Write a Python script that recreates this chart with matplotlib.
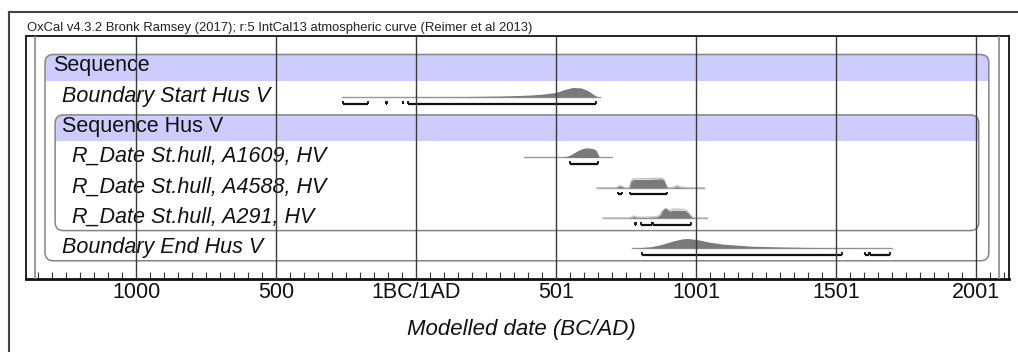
import matplotlib
matplotlib.use('Agg')
import matplotlib.pyplot as plt
from matplotlib.patches import FancyBboxPatch, Rectangle
from matplotlib.lines import Line2D

plt.rcParams['font.family'] = ['Liberation Sans', 'DejaVu Sans']

# model rows, top to bottom
labels = ['Sequence', 'Boundary Start Hus V', 'Sequence Hus V',
          'R_Date St.hull, A1609, HV', 'R_Date St.hull, A4588, HV',
          'R_Date St.hull, A291, HV', 'Boundary End Hus V']
indent = [0, 1, 1, 2, 2, 2, 1]
italic = [False, True, False, True, True, True, True]

# sequence groups: (header row, last row)
groups = [(0, 6), (2, 5)]

tick_years = [-1000, -500, 0, 500, 1000, 1500, 2000]
tick_labels = ['1000', '500', '1BC/1AD', '501', '1001', '1501', '2001']

# posterior distributions (calendar year, relative probability)
start_x = [-265, 0, 100, 200, 300, 400, 450, 500, 530, 560, 590, 615, 635, 650, 657]
start_p = [0, 0.02, 0.04, 0.07, 0.11, 0.2, 0.3, 0.48, 0.78, 1.0, 0.95, 0.65, 0.25, 0, 0]

a1609_x = [386, 520, 535, 550, 565, 580, 595, 605, 615, 625, 635, 643, 650, 655, 700]
a1609_p = [0, 0, 0.08, 0.25, 0.5, 0.75, 0.92, 1.0, 0.98, 0.95, 0.9, 0.75, 0.35, 0, 0]

a4588_x = [645, 715, 722, 729, 736, 745, 762, 767, 775, 800, 830, 860, 875, 885,
           892, 898, 915, 925, 932, 940, 960, 1028]
a4588_p = [0, 0, 0.1, 0.2, 0.1, 0, 0, 0.6, 0.85, 0.85, 0.87, 0.9, 0.92, 0.8,
           0.3, 0, 0, 0.08, 0.15, 0.05, 0, 0]
a4588_prior = [0, 0, 0.1, 0.2, 0.1, 0, 0.02, 0.6, 0.9, 0.92, 0.95, 0.97, 0.98, 0.85,
               0.35, 0.03, 0.02, 0.12, 0.2, 0.1, 0.02, 0]

a291_x = [668, 760, 770, 778, 786, 800, 830, 860, 872, 880, 887, 893, 900, 908,
          915, 930, 950, 962, 972, 982, 990, 1040]
a291_p = [0, 0, 0.05, 0.15, 0.06, 0.04, 0.05, 0.1, 0.3, 0.75, 0.95, 1.0, 0.8, 0.7,
          0.8, 0.8, 0.78, 0.75, 0.5, 0.15, 0, 0]
a291_prior = [0, 0.01, 0.08, 0.2, 0.1, 0.07, 0.08, 0.12, 0.32, 0.7, 0.9, 0.95, 0.82, 0.78,
              0.9, 0.9, 0.88, 0.82, 0.6, 0.2, 0.03, 0]

end_x = [771, 800, 840, 880, 920, 950, 968, 1000, 1050, 1100, 1200, 1300, 1400, 1500, 1600, 1700]
end_p = [0, 0.05, 0.15, 0.4, 0.75, 0.95, 1.0, 0.9, 0.6, 0.4, 0.2, 0.12, 0.07, 0.04, 0.02, 0]

# 95.4% highest posterior density ranges
start_ranges = [(-261, -172), (-108, -105), (-48, -45), (-28, 643)]
a1609_ranges = [(549, 651)]
a4588_ranges = [(720, 737), (763, 896)]
a291_ranges = [(781, 784), (802, 844), (846, 983)]
end_ranges = [(807, 1521), (1605, 1617), (1621, 1693)]

# row index -> (years, posterior, prior, ranges)
dists = {
    1: (start_x, start_p, None, start_ranges),
    3: (a1609_x, a1609_p, None, a1609_ranges),
    4: (a4588_x, a4588_p, a4588_prior, a4588_ranges),
    5: (a291_x, a291_p, a291_prior, a291_ranges),
    6: (end_x, end_p, None, end_ranges),
}

W, H = 1018, 352
fig = plt.figure(figsize=(W / 100, H / 100), dpi=100)
ax = fig.add_axes([26 / W, 1 - 279 / H, (1009 - 26) / W, (279 - 36) / H])
ax.set_xlim(-1393, 2118)
ax.set_ylim(7.053, -0.993)

frame_lo, frame_hi = -1361, 2082
inset = 36
band_col = '#ccccff'
box_col = '#858585'

# sequence boxes with shaded header band
for depth, (first, last) in enumerate(groups, start=1):
    x0 = frame_lo + inset * depth
    x1 = frame_hi - inset * depth
    y0 = first - 0.38
    y1 = last + 0.45
    box = FancyBboxPatch((x0, y0), x1 - x0, y1 - y0,
                         boxstyle='round,pad=0,rounding_size=30',
                         mutation_aspect=0.0092,
                         facecolor='none', edgecolor=box_col, lw=1.1, zorder=3)
    ax.add_patch(box)
    band = Rectangle((x0, y0), x1 - x0, first + 0.5 - y0,
                     facecolor=band_col, edgecolor='none', zorder=1)
    ax.add_patch(band)
    band.set_clip_path(box)

# row labels
for i, (lab, ind, it) in enumerate(zip(labels, indent, italic)):
    ax.text(-1297 + 34 * ind, i, lab, fontsize=15.5, va='center', ha='left',
            style='italic' if it else 'normal', color='#111111', zorder=4)

# distributions and ranges
scale = 0.32
for row, (xs, ps, prior, ranges) in dists.items():
    base = row + 0.03
    ax.plot([xs[0], xs[-1]], [base, base], color='#9a9a9a', lw=1, zorder=2)
    if prior is not None:
        ax.plot(xs, [base - scale * v for v in prior], color='#c4c4c4', lw=1, zorder=2)
    ax.fill_between(xs, base, [base - scale * v for v in ps],
                    color='#7a7a7a', lw=0, zorder=2.5)
    ry = row + 0.25
    for a, b in ranges:
        ax.plot([a, b], [ry, ry], color='#111111', lw=1.6, solid_capstyle='butt', zorder=3)
        ax.vlines([a, b], ry - 0.09, ry, color='#111111', lw=1.3, zorder=3)

# vertical grid at labelled years, plot-range lines
for yr in tick_years:
    ax.axvline(yr, color='#3a3a3a', lw=1, zorder=5)
for yr in (frame_lo, frame_hi):
    ax.axvline(yr, color='#8a8a8a', lw=1.2, zorder=5)

ax.set_xticks(tick_years)
ax.set_xticklabels(tick_labels, fontsize=15.5)
ax.set_xticks(range(-1350, 2101, 50), minor=True)
ax.tick_params(axis='x', which='major', length=0, pad=2, colors='#111111')
ax.tick_params(axis='x', which='minor', direction='in', length=5, width=0.8, color='#333333')
ax.set_yticks([])
for side in ['left', 'right', 'top']:
    ax.spines[side].set_linewidth(1.3)
    ax.spines[side].set_color('#111111')
ax.spines['bottom'].set_linewidth(2)
ax.spines['bottom'].set_color('#111111')

fig.text(27 / W, 1 - 28 / H,
         'OxCal v4.3.2 Bronk Ramsey (2017); r:5 IntCal13 atmospheric curve (Reimer et al 2013)',
         fontsize=9.4, ha='left', va='center', color='#222222')
fig.text(521 / W, 1 - 330 / H, 'Modelled date (BC/AD)', fontsize=16, style='italic',
         ha='center', va='center', color='#111111')

# outer page border
fig.add_artist(Line2D([9 / W, 1], [1 - 12 / H, 1 - 12 / H], color='#444444', lw=1.5))
fig.add_artist(Line2D([9 / W, 9 / W], [0, 1 - 12 / H], color='#444444', lw=1.5))

fig.savefig('out.png', dpi=100)
